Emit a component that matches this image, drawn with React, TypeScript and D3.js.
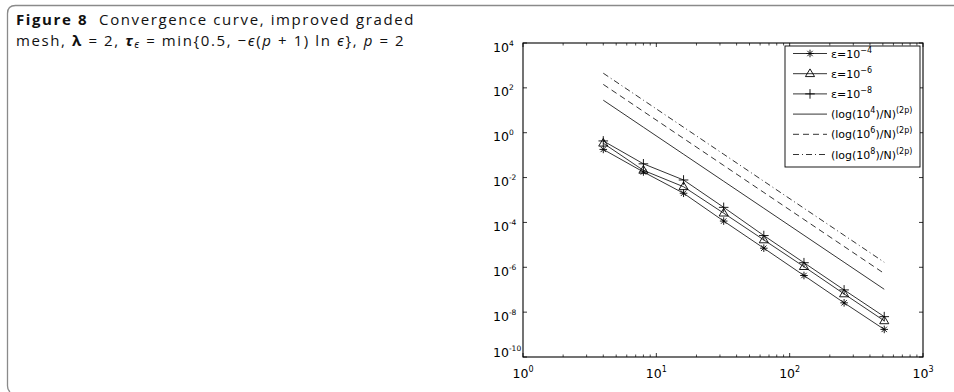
import React from "react";
import * as d3 from "d3";

const N = [4, 8, 16, 32, 64, 128, 256, 512];
const eps4 = [0.18, 0.0178, 2.0e-3, 1.15e-4, 7.1e-6, 4.3e-7, 2.6e-8, 1.7e-9];
const eps6 = [0.34, 0.021, 3.9e-3, 2.6e-4, 1.66e-5, 1.07e-6, 6.5e-8, 4.1e-9];
const eps8 = [0.43, 0.041, 7.8e-3, 4.7e-4, 2.6e-5, 1.6e-6, 9.8e-8, 6.3e-9];
const ref4 = [28.11, 1.757, 0.1098, 6.863e-3, 4.289e-4, 2.681e-5, 1.675e-6, 1.047e-7];
const ref6 = [142.3, 8.894, 0.5559, 3.474e-2, 2.171e-3, 1.357e-4, 8.482e-6, 5.301e-7];
const ref8 = [449.8, 28.11, 1.757, 0.1098, 6.863e-3, 4.289e-4, 2.681e-5, 1.675e-6];

const xTickExps = [0, 1, 2, 3];
const yTickExps = [4, 2, 0, -2, -4, -6, -8, -10];

const legendLabels = [
  { base: "\u03b5=10", sup: "\u22124" },
  { base: "\u03b5=10", sup: "\u22126" },
  { base: "\u03b5=10", sup: "\u22128" },
  { base: "(log(10", sup: "4", rest: ")/N)", sup2: "(2p)" },
  { base: "(log(10", sup: "6", rest: ")/N)", sup2: "(2p)" },
  { base: "(log(10", sup: "8", rest: ")/N)", sup2: "(2p)" },
];

const L = 523, R = 923, T = 43, B = 357;
const x = d3.scaleLog().domain([1, 1000]).range([L, R]);
const y = d3.scaleLog().domain([1e-10, 1e4]).range([B, T]);
const line = d3
  .line<[number, number]>()
  .x((d) => x(d[0]))
  .y((d) => y(d[1]));

const axisFont = "'DejaVu Sans', 'Liberation Sans', Arial, sans-serif";
const capFont = "'Open Sans', 'Noto Sans', sans-serif";

function Marker({ kind, cx, cy }: { kind: string; cx: number; cy: number }) {
  if (kind === "star") {
    const r = 3.8;
    const a = r * 0.7071;
    return (
      <g stroke="#000" strokeWidth={0.9}>
        <line x1={cx - r} y1={cy} x2={cx + r} y2={cy} />
        <line x1={cx} y1={cy - r} x2={cx} y2={cy + r} />
        <line x1={cx - a} y1={cy - a} x2={cx + a} y2={cy + a} />
        <line x1={cx - a} y1={cy + a} x2={cx + a} y2={cy - a} />
      </g>
    );
  }
  if (kind === "tri") {
    const r = 4.8;
    const p = d3.path();
    p.moveTo(cx, cy - r);
    p.lineTo(cx + r * 0.95, cy + r * 0.6);
    p.lineTo(cx - r * 0.95, cy + r * 0.6);
    p.closePath();
    return <path d={p.toString()} fill="none" stroke="#000" strokeWidth={0.9} />;
  }
  const r = 4.8;
  return (
    <g stroke="#000" strokeWidth={0.9}>
      <line x1={cx - r} y1={cy} x2={cx + r} y2={cy} />
      <line x1={cx} y1={cy - r} x2={cx} y2={cy + r} />
    </g>
  );
}

const series = [
  { data: eps4, marker: "star", dash: undefined as string | undefined },
  { data: eps6, marker: "tri", dash: undefined },
  { data: eps8, marker: "plus", dash: undefined },
  { data: ref4, marker: "", dash: undefined },
  { data: ref6, marker: "", dash: "6,4" },
  { data: ref8, marker: "", dash: "6,3,1,3" },
];

export default function App() {
  const minorX: number[] = [];
  [1, 10, 100].forEach((dec) => {
    for (let k = 2; k <= 9; k++) minorX.push(dec * k);
  });

  const legX0 = 785, legX1 = 920, legY0 = 46, legY1 = 167;
  const rowY = (i: number) => 53.5 + i * 20.2;

  return (
    <svg
      width={954}
      height={392}
      style={{ position: "absolute", left: 0, top: 0, background: "#fff" }}
    >
      <rect x={0} y={0} width={954} height={392} fill="#fff" />
      {/* caption box border */}
      <path
        d="M 954 5.5 L 15.5 5.5 Q 7.5 5.5 7.5 13.5 L 7.5 386 Q 7.5 390 10 392"
        fill="none"
        stroke="#8a8a8a"
        strokeWidth={1.3}
      />
      {/* caption */}
      <text x={16} y={25} fontFamily={capFont} fontSize={15} letterSpacing={1.6} fill="#111">
        <tspan fontWeight="bold">Figure 8</tspan>
        <tspan>{"\u00a0 Convergence curve, improved graded"}</tspan>
      </text>
      <text x={16} y={45.5} fontFamily={capFont} fontSize={15} letterSpacing={1.6} fill="#111">
        <tspan>{"mesh, "}</tspan>
        <tspan fontWeight="bold">{"\u03bb"}</tspan>
        <tspan>{" = 2, "}</tspan>
        <tspan fontWeight="bold" fontStyle="italic">{"\u03c4"}</tspan>
        <tspan fontSize={10.5} dy={2.5} fontStyle="italic">{"\u03f5"}</tspan>
        <tspan dy={-2.5}>{" = min{0.5, \u2212"}</tspan>
        <tspan fontStyle="italic">{"\u03f5"}</tspan>
        <tspan>{"("}</tspan>
        <tspan fontStyle="italic">p</tspan>
        <tspan>{" + 1) ln "}</tspan>
        <tspan fontStyle="italic">{"\u03f5"}</tspan>
        <tspan>{"}, "}</tspan>
        <tspan fontStyle="italic">p</tspan>
        <tspan>{" = 2"}</tspan>
      </text>

      {/* data lines */}
      {series.map((s, i) => (
        <path
          key={i}
          d={line(N.map((n, j) => [n, s.data[j]] as [number, number])) || ""}
          fill="none"
          stroke="#000"
          strokeWidth={0.8}
          strokeDasharray={s.dash}
        />
      ))}
      {series.map((s, i) =>
        s.marker
          ? N.map((n, j) => (
              <Marker key={`${i}-${j}`} kind={s.marker} cx={x(n)} cy={y(s.data[j])} />
            ))
          : null
      )}

      {/* axes frame */}
      <rect x={L} y={T} width={R - L} height={B - T} fill="none" stroke="#000" strokeWidth={1.1} />
      {/* x ticks */}
      {xTickExps.map((e) => (
        <g key={`xt${e}`} stroke="#000" strokeWidth={0.8}>
          <line x1={x(10 ** e)} x2={x(10 ** e)} y1={B} y2={B - 4} />
          <line x1={x(10 ** e)} x2={x(10 ** e)} y1={T} y2={T + 4} />
        </g>
      ))}
      {minorX.map((v) => (
        <g key={`xm${v}`} stroke="#000" strokeWidth={0.7}>
          <line x1={x(v)} x2={x(v)} y1={B} y2={B - 2.5} />
          <line x1={x(v)} x2={x(v)} y1={T} y2={T + 2.5} />
        </g>
      ))}
      {/* y ticks */}
      {yTickExps.map((e) => (
        <g key={`yt${e}`} stroke="#000" strokeWidth={0.8}>
          <line x1={L} x2={L + 4} y1={y(10 ** e)} y2={y(10 ** e)} />
          <line x1={R} x2={R - 4} y1={y(10 ** e)} y2={y(10 ** e)} />
        </g>
      ))}
      {/* x labels */}
      {xTickExps.map((e) => (
        <text
          key={`xl${e}`}
          x={x(10 ** e)}
          y={B + 21}
          textAnchor="middle"
          fontFamily={axisFont}
          fontSize={12.5}
          fill="#000"
        >
          10
          <tspan fontSize={8} dy={-6}>
            {String(e)}
          </tspan>
        </text>
      ))}
      {/* y labels */}
      {yTickExps.map((e) => (
        <text
          key={`yl${e}`}
          x={493}
          y={y(10 ** e) + (e === -10 ? -0.5 : 8.5)}
          fontFamily={axisFont}
          fontSize={12.5}
          fill="#000"
        >
          10
          <tspan fontSize={7.5} dy={-6}>
            {e < 0 ? `-${-e}` : String(e)}
          </tspan>
        </text>
      ))}

      {/* legend */}
      <rect
        x={legX0}
        y={legY0}
        width={legX1 - legX0}
        height={legY1 - legY0}
        fill="#fff"
        stroke="#000"
        strokeWidth={0.9}
      />
      {series.map((s, i) => {
        const yy = rowY(i);
        const lab = legendLabels[i];
        return (
          <g key={`lg${i}`}>
            <line
              x1={793}
              x2={827}
              y1={yy}
              y2={yy}
              stroke="#000"
              strokeWidth={0.8}
              strokeDasharray={s.dash}
            />
            {s.marker ? <Marker kind={s.marker} cx={810} cy={yy} /> : null}
            <text x={831} y={yy + 4} fontFamily={axisFont} fontSize={11} fill="#000">
              {lab.base}
              <tspan fontSize={8} dy={-5}>
                {lab.sup}
              </tspan>
              {lab.rest ? (
                <>
                  <tspan dy={5}>{lab.rest}</tspan>
                  <tspan fontSize={8} dy={-5}>
                    {lab.sup2}
                  </tspan>
                </>
              ) : null}
            </text>
          </g>
        );
      })}
    </svg>
  );
}
